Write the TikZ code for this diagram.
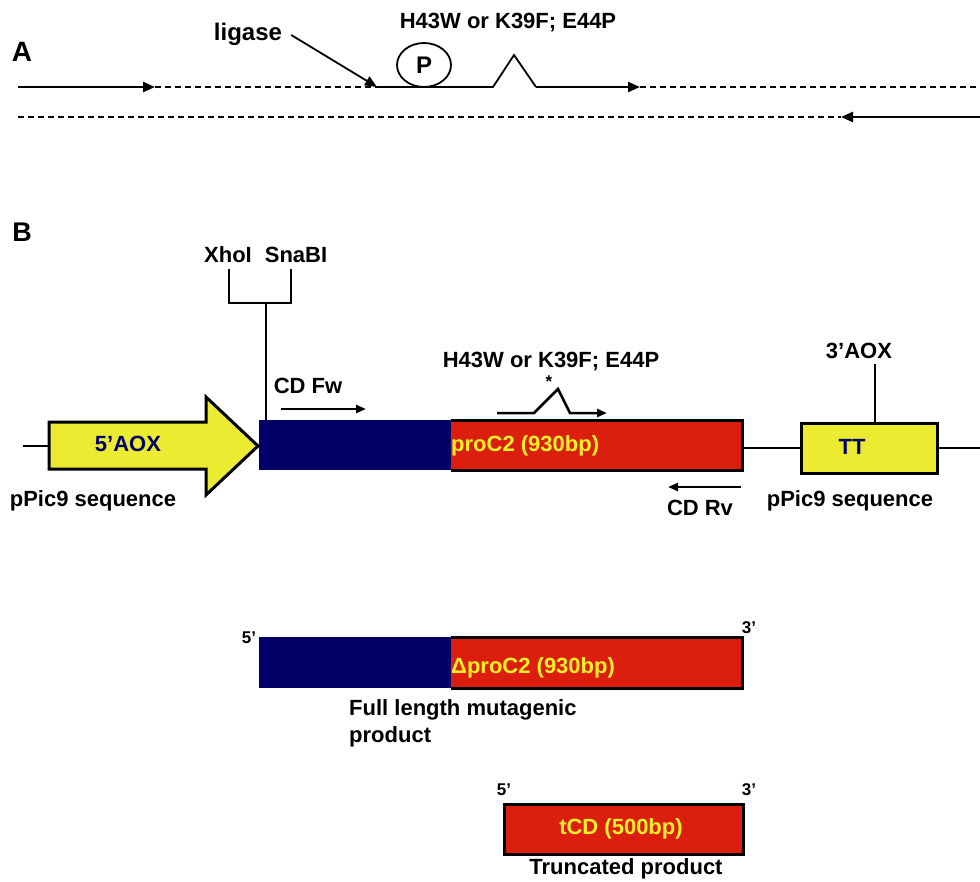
\documentclass[tikz,border=0pt]{standalone}
\usepackage{fontspec}
\setmainfont{Liberation Sans}
\usetikzlibrary{arrows.meta,shapes.geometric}
\definecolor{aoxyellow}{RGB}{235,235,50}
\definecolor{cdnavy}{RGB}{0,0,102}
\definecolor{cdred}{RGB}{220,30,15}
\definecolor{lbltext}{RGB}{245,240,40}
\tikzset{
  lbl/.style={font=\fontsize{22}{27}\selectfont\bfseries, inner sep=0pt},
  tiny/.style={font=\fontsize{17}{19}\selectfont\bfseries, inner sep=0pt},
  strand/.style={line width=2.5pt},
  gapline/.style={line width=1.6pt, dash pattern=on 6pt off 4pt},
  tipA/.style={-{Triangle[length=12pt,width=10pt]}},
  tipB/.style={-{Triangle[length=10pt,width=8pt]}},
  boxline/.style={line width=3pt},
}
\begin{document}
\begin{tikzpicture}[x=1pt,y=-1pt]
  \useasboundingbox (0,0) rectangle (980,881);
  \node (pA) [font=\fontsize{28}{30}\selectfont\bfseries, inner sep=0pt] at (22,52) {A};
  \node (ligase) [font=\fontsize{24}{26}\selectfont\bfseries, inner sep=0pt] at (248,34) {ligase};
  \node (mutA) [lbl] at (508,23) {H43W or K39F; E44P};
  \node (phos) [draw, ellipse, line width=1.8pt, minimum width=54, minimum height=44, inner sep=0pt,
    font=\fontsize{24}{26}\selectfont\bfseries] at (424,65) {P};
  \coordinate (a0) at (18,87);
  \coordinate (a1) at (155,87);
  \coordinate (lig) at (377,87);
  \coordinate (k1) at (493,87);
  \coordinate (kp) at (514,55);
  \coordinate (k2) at (536,87);
  \coordinate (a2) at (640,87);
  \coordinate (a3) at (980,87);
  \coordinate (b0) at (18,117);
  \coordinate (b1) at (841,117);
  \coordinate (b2) at (980,117);
  \draw[strand, tipA] (a0) -- (a1);
  \draw[gapline] (a1) -- (lig);
  \draw[line width=1.8pt] (lig) -- (k1) -- (kp) -- (k2);
  \draw[strand, tipA] (k2) -- (a2);
  \draw[gapline] (a2) -- (a3);
  \draw[gapline] (b0) -- (b1);
  \draw[strand, tipA] (b2) -- (b1);
  \draw[line width=1.8pt, tipA] ([xshift=9pt,yshift=-1pt]ligase.east) -- (lig);

  \node (pB) [font=\fontsize{27}{29}\selectfont\bfseries, inner sep=0pt] at (22,232) {B};
  \coordinate (l0) at (23,446);
  \coordinate (l1) at (49,446);
  \draw[strand] (l0) -- (l1);
  \draw[boxline, fill=aoxyellow] (49,422) -- (206,422) -- (206,397) -- (258,446)
    -- (206,495) -- (206,469) -- (49,469) -- cycle;
  \node (aox5) [lbl, text=cdnavy] at (128,444) {5’AOX};
  \node (cd) [fill=cdnavy, anchor=north west, minimum width=192, minimum height=50, inner sep=0pt] at (259,420) {};
  \node (pro) [fill=cdred, anchor=north west, minimum width=291, minimum height=50, inner sep=0pt] at (451,420) {};
  \draw[boxline] (pro.north west) -- (pro.north east) -- (pro.south east) -- (pro.south west);
  \node (proC) [lbl, text=lbltext, anchor=west] at (451,446) {proC2 (930bp)};
  \node (tt) [draw, boxline, fill=aoxyellow, minimum width=136, minimum height=50, inner sep=0pt] at (869,448) {};
  \node (ttl) [lbl, text=cdnavy] at (852,447) {TT};
  \coordinate (r0) at (980,448);
  \draw[strand] (tt.west -| pro.east) -- (tt.west);
  \draw[strand] (tt.east) -- (r0);
  \node (xho) [lbl] at (228,255) {XhoI};
  \node (sna) [lbl] at (296,255) {SnaBI};
  \coordinate (site) at (266,303);
  \draw[strand] (229,269) -- (229,303) -- (291,303) -- (291,269);
  \draw[strand] (site) -- (site |- cd.north);
  \node (aox3) [lbl] at (859,351) {3’AOX};
  \coordinate (ttstem) at (875,364);
  \draw[strand] (ttstem) -- (ttstem |- tt.north);
  \node (fw) [lbl] at (308,386) {CD Fw};
  \coordinate (fw0) at (281,409);
  \coordinate (fw1) at (366,409);
  \draw[strand, tipB] (fw0) -- (fw1);
  \node (mutB) [lbl] at (551,362) {H43W or K39F; E44P};
  \node (star) [tiny] at (549,382) {*};
  \coordinate (m0) at (497,413);
  \coordinate (m1) at (534,413);
  \coordinate (mp) at (558,389);
  \coordinate (m2) at (570,413);
  \coordinate (m3) at (607,413);
  \draw[strand, tipB] (m0) -- (m1) -- (mp) -- (m2) -- (m3);
  \coordinate (rv0) at (741,487);
  \coordinate (rv1) at (668,487);
  \draw[strand, tipB] (rv0) -- (rv1);
  \node (rv) [lbl] at (700,508) {CD Rv};
  \node (seqL) [lbl] at (93,501) {pPic9 sequence};
  \node (seqR) [lbl] at (850,501) {pPic9 sequence};

  \node (fcd) [fill=cdnavy, anchor=north west, minimum width=192, minimum height=51, inner sep=0pt] at (259,637) {};
  \node (fpro) [fill=cdred, anchor=north west, minimum width=291, minimum height=51, inner sep=0pt] at (451,637) {};
  \draw[boxline] (fpro.north west) -- (fpro.north east) -- (fpro.south east) -- (fpro.south west);
  \node (fproC) [lbl, text=lbltext, anchor=west] at (451,668) {ΔproC2 (930bp)};
  \node (f5) [tiny] at (249,638) {5’};
  \node (f3) [tiny] at (749,628) {3’};
  \node (full) [lbl, align=left, anchor=west] at (349,723) {Full length mutagenic\\product};

  \node (tcd) [draw, boxline, fill=cdred, anchor=north west, minimum width=239, minimum height=50, inner sep=0pt] at (503,803) {};
  \node (tcdl) [lbl, text=lbltext] at (621,829) {tCD (500bp)};
  \node (t5) [tiny] at (504,790) {5’};
  \node (t3) [tiny] at (749,790) {3’};
  \node (trunc) [lbl] at (626,869) {Truncated product};
\end{tikzpicture}
\end{document}
